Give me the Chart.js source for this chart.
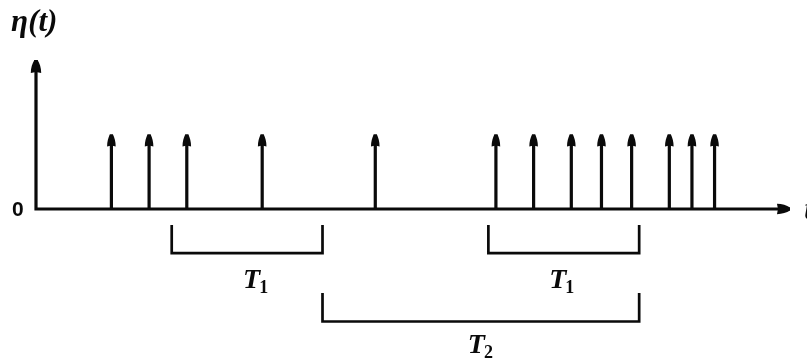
<!DOCTYPE html>
<html>
<head>
<meta charset="utf-8">
<script src="https://cdn.jsdelivr.net/npm/chart.js@4/dist/chart.umd.min.js"></script>
<style>
  html, body { margin: 0; padding: 0; background: #fff; overflow: hidden; }
  canvas { display: block; }
</style>
</head>
<body>
<canvas id="c" width="807" height="361"></canvas>
<script>
// Impulse arrival times on the t axis and their (unit) strength
const impulseTimes = [10, 15, 20, 30, 45, 61, 66, 71, 75, 79, 84, 87, 90];
const impulseHeight = 1;

// Interval brackets drawn below the axis, as [start, end] in t
const t1Intervals = [[18, 38], [60, 80]];
const t2Interval = [38, 80];

// Axis extents
const tAxisEnd = 100;
const etaAxisEnd = 2;

// Text
const yAxisLabel = 'η(t)';
const xAxisLabel = 't';
const originLabel = '0';
const t1Label = ['T', '1'];
const t2Label = ['T', '2'];

// ---- layout (scale ranges and vertical placement of brackets/labels) ----
const X_RANGE = [-4.775, 102.26];
const Y_RANGE = [-2.04, 2.805];
const T1_LEVEL = { top: -0.215, bottom: -0.591, text: -1.06 };
const T2_LEVEL = { top: -1.128, bottom: -1.51, text: -1.933 };
const T1_TEXT_SHIFT = [1.2, -0.2];   // small horizontal nudge of each T1 label, in t units
const INK = '#0a0a0a';

function bracket(a, b, lv) {
  return [
    { x: a, y: lv.top }, { x: a, y: lv.bottom },
    { x: b, y: lv.bottom }, { x: b, y: lv.top }
  ];
}

const lineDefaults = {
  showLine: true, pointRadius: 0, borderColor: INK, backgroundColor: INK,
  tension: 0, borderCapStyle: 'butt', borderJoinStyle: 'miter', spanGaps: false
};

const datasets = [
  // impulse stems: one segment per impulse, separated by gaps
  Object.assign({}, lineDefaults, {
    label: 'impulses', borderWidth: 3.2,
    data: impulseTimes.flatMap(t => [{ x: t, y: 0 }, { x: t, y: impulseHeight }, { x: t, y: null }])
  }),
  // axes
  Object.assign({}, lineDefaults, {
    label: 'axes', borderWidth: 3.2,
    data: [{ x: 0, y: etaAxisEnd }, { x: 0, y: 0 }, { x: tAxisEnd, y: 0 }]
  }),
  // T1 brackets
  ...t1Intervals.map((iv, i) => Object.assign({}, lineDefaults, {
    label: 'T1 #' + (i + 1), borderWidth: 2.7, data: bracket(iv[0], iv[1], T1_LEVEL)
  })),
  // T2 bracket
  Object.assign({}, lineDefaults, {
    label: 'T2', borderWidth: 2.7, data: bracket(t2Interval[0], t2Interval[1], T2_LEVEL)
  })
];

// filled teardrop arrowhead with its tip at (x, y); angle 0 points up
function arrowHead(ctx, x, y, angle, len, half) {
  ctx.save();
  ctx.translate(x, y);
  ctx.rotate(angle);
  ctx.beginPath();
  ctx.moveTo(-1.6, 0);
  ctx.lineTo(1.6, 0);
  ctx.bezierCurveTo(half * 0.7, len * 0.25, half, len * 0.6, half, len);
  ctx.lineTo(0, len - 1);
  ctx.lineTo(-half, len);
  ctx.bezierCurveTo(-half, len * 0.6, -half * 0.7, len * 0.25, -1.6, 0);
  ctx.closePath();
  ctx.fill();
  ctx.restore();
}

const arrowPlugin = {
  id: 'arrowHeads',
  afterDatasetsDraw(chart) {
    const { ctx, scales: { x, y } } = chart;
    ctx.fillStyle = INK;
    impulseTimes.forEach(t => {
      arrowHead(ctx, x.getPixelForValue(t), y.getPixelForValue(impulseHeight), 0, 12, 4.3);
    });
    arrowHead(ctx, x.getPixelForValue(0), y.getPixelForValue(etaAxisEnd), 0, 13, 5.2);
    arrowHead(ctx, x.getPixelForValue(tAxisEnd), y.getPixelForValue(0), Math.PI / 2, 13, 5.2);
  }
};

function subscripted(ctx, parts, cx, baseY) {
  const mainFont = 'bold italic 28px "Liberation Serif", "DejaVu Serif", serif';
  const subFont = 'bold 18px "Liberation Serif", "DejaVu Serif", serif';
  ctx.font = mainFont;
  const w1 = ctx.measureText(parts[0]).width;
  ctx.font = subFont;
  const w2 = ctx.measureText(parts[1]).width;
  const left = cx - (w1 + w2) / 2;
  ctx.textAlign = 'left';
  ctx.textBaseline = 'alphabetic';
  ctx.font = mainFont;
  ctx.fillText(parts[0], left, baseY);
  ctx.font = subFont;
  ctx.fillText(parts[1], left + w1 - 1, baseY + 5);
}

const textPlugin = {
  id: 'diagramText',
  afterDraw(chart) {
    const { ctx, scales: { x, y } } = chart;
    ctx.save();
    ctx.fillStyle = INK;

    ctx.font = 'bold italic 31px "Liberation Serif", "DejaVu Serif", serif';
    ctx.textAlign = 'left';
    ctx.textBaseline = 'alphabetic';
    ctx.fillText(yAxisLabel, x.getPixelForValue(-3.3), y.getPixelForValue(2.39));

    ctx.fillText(xAxisLabel, x.getPixelForValue(101.9), y.getPixelForValue(-0.13));

    ctx.font = 'bold 21px "Liberation Sans", Arial, sans-serif';
    ctx.textAlign = 'center';
    ctx.textBaseline = 'middle';
    ctx.fillText(originLabel, x.getPixelForValue(-2.4), y.getPixelForValue(-0.01));

    t1Intervals.forEach((iv, i) => {
      subscripted(ctx, t1Label, x.getPixelForValue((iv[0] + iv[1]) / 2 + T1_TEXT_SHIFT[i]),
        y.getPixelForValue(T1_LEVEL.text));
    });
    subscripted(ctx, t2Label, x.getPixelForValue((t2Interval[0] + t2Interval[1]) / 2),
      y.getPixelForValue(T2_LEVEL.text));
    ctx.restore();
  }
};

new Chart(document.getElementById('c'), {
  type: 'scatter',
  data: { datasets },
  options: {
    responsive: false,
    animation: false,
    devicePixelRatio: 1,
    layout: { padding: 0 },
    plugins: { legend: { display: false }, tooltip: { enabled: false } },
    scales: {
      x: { type: 'linear', min: X_RANGE[0], max: X_RANGE[1], display: false },
      y: { type: 'linear', min: Y_RANGE[0], max: Y_RANGE[1], display: false }
    }
  },
  plugins: [arrowPlugin, textPlugin]
});
</script>
</body>
</html>
